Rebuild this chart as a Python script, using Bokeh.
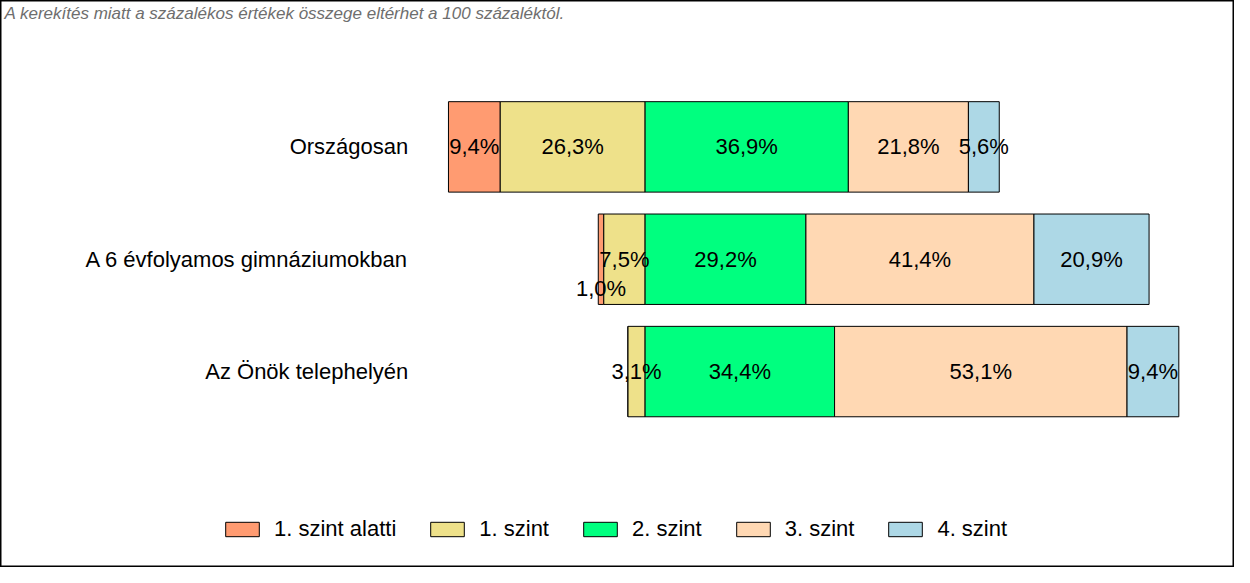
from bokeh.plotting import figure
from bokeh.models import ColumnDataSource, Range1d, Legend, LegendItem, Label
from bokeh.core.properties import value
from bokeh.embed import file_html
from bokeh.resources import INLINE

# ---- data ----
categories = ["Országosan", "A 6 évfolyamos gimnáziumokban", "Az Önök telephelyén"]
levels = ["1. szint alatti", "1. szint", "2. szint", "3. szint", "4. szint"]
below1 = [9.4, 1.0, 0.0]
level1 = [26.3, 7.5, 3.1]
level2 = [36.9, 29.2, 34.4]
level3 = [21.8, 41.4, 53.1]
level4 = [5.6, 20.9, 9.4]
note = "A kerekítés miatt a  százalékos értékek összege eltérhet a 100 százaléktól."

colors = ["#FF9B71", "#EEE18A", "#00FF7F", "#FFD8B3", "#ADD8E6"]
FONT = "Liberation Sans"

W, H = 1234, 567
p = figure(width=W, height=H, output_backend="svg", toolbar_location=None,
           x_range=Range1d(-117.03, 107.01), y_range=Range1d(-0.7443, 4.3033),
           x_axis_type=None, y_axis_type=None, min_border=0)
p.grid.visible = False
p.outline_line_color = "black"
p.outline_line_width = 2
p.background_fill_color = "white"
p.border_fill_color = "white"

n = len(categories)
ys = list(range(n, 0, -1))
series = [below1, level1, level2, level3, level4]

# diverging stack: levels below "2. szint" go left of zero
lefts, rights = [], []
for k, s in enumerate(series):
    L, R = [], []
    for i in range(n):
        if k < 2:
            r = -sum(series[j][i] for j in range(k + 1, 2))
            l = r - s[i]
        else:
            l = sum(series[j][i] for j in range(2, k))
            r = l + s[i]
        L.append(l)
        R.append(r)
    lefts.append(L)
    rights.append(R)

items = []
lx, ly, lt = [], [], []
for k, s in enumerate(series):
    src = ColumnDataSource(dict(y=ys, left=lefts[k], right=rights[k]))
    r = p.hbar(y="y", left="left", right="right", height=0.805, source=src,
               fill_color=colors[k], line_color="black", line_width=1)
    items.append(LegendItem(label=levels[k], renderers=[r]))
    for i in range(n):
        if s[i] > 0:
            lx.append((lefts[k][i] + rights[k][i]) / 2)
            ly.append(ys[i] - (0.26 if s[i] < 2 else 0))
            lt.append(f"{s[i]:.1f}%".replace(".", ","))

p.text(x=lx, y=ly, text=lt, text_align="center", text_baseline="middle",
       text_font=value(FONT), text_font_size="22px", text_color="black")

p.text(x=[-43.0] * n, y=ys, text=categories, text_align="right", text_baseline="middle",
       text_font=value(FONT), text_font_size="22px", text_color="black")

p.add_layout(Label(x=4, y=H - 3, x_units="screen", y_units="screen", text=note,
                   text_font=FONT, text_font_size="17px", text_font_style="italic",
                   text_color="#6E6E6E", text_baseline="top", text_align="left"))

legend = Legend(items=items, orientation="horizontal", location=(221, 25),
                glyph_width=42, glyph_height=18, label_standoff=11, spacing=30,
                padding=0, margin=0, border_line_color=None, background_fill_alpha=0,
                label_text_font=FONT, label_text_font_size="22px", label_text_color="black")
p.add_layout(legend)

open("out.html", "w").write(file_html(p, INLINE))
